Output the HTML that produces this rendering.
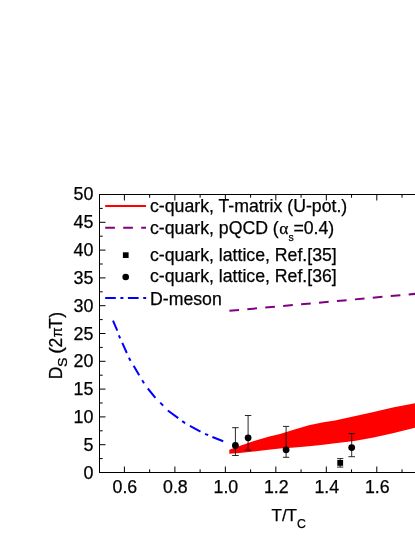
<!DOCTYPE html>
<html><head><meta charset="utf-8">
<style>
html,body{margin:0;padding:0;background:#fff;}
svg{display:block;will-change:transform;}
text{font-family:"Liberation Sans",sans-serif;fill:#000;stroke:#000;stroke-width:0.25px;}
</style></head><body>
<svg width="415" height="537" viewBox="0 0 415 537">
<rect width="415" height="537" fill="#fff"/>
<!-- red band -->
<path d="M229.3,449.7 L239.5,446.1 L253.9,441.0 L268.4,436.7 L280,433.9 L294.5,429.6 L308.9,425.2 L323.4,422.3 L335,420.4 L354.3,416.2 L373.6,412.0 L392.8,407.5 L416,403 L416,427.6 L392.8,433.2 L373.6,437.4 L354.3,440.9 L335,443.2 L323.4,444.8 L308.9,446.2 L294.5,447.6 L280,448.4 L268.4,449.7 L253.9,451.4 L239.5,452.9 L229.3,453.7 Z" fill="#ff0000"/>
<!-- pQCD -->
<line x1="229.4" y1="310.85" x2="429.5" y2="292.55" stroke="#800080" stroke-width="2" stroke-dasharray="9.7 8.3"/>
<!-- D-meson -->
<path d="M113.0,320.6L117.3,330.6 M122.3,342.9L126.8,353.0 M133.65,365.8L139.2,375.2 M147.8,388.5L155.4,397.9 M167.8,410.5L178.25,418.15 M189.9,425.8L200.5,431.6 M212.4,437.0L223.2,441.3 M118.89,335.30L120.11,338.30 M128.90,357.70L130.50,360.70 M142.13,380.20L144.07,383.20 M160.22,402.65L163.18,405.65 M182.15,421.12L185.15,423.08 M205.10,433.82L208.10,435.18" fill="none" stroke="#0000ff" stroke-width="2"/>
<!-- axes -->
<g stroke="#000" stroke-width="1" fill="none">
<path d="M99.5,194 V473 M99,194.5 H416 M99,472.5 H416"/>
<g id="yt"></g>
</g>
<g stroke="#000" stroke-width="1" fill="none">
<!-- y major -->
<path d="M99.5,472.5h6 M99.5,444.7h6 M99.5,416.9h6 M99.5,389.1h6 M99.5,361.3h6 M99.5,333.5h6 M99.5,305.7h6 M99.5,277.9h6 M99.5,250.1h6 M99.5,222.3h6"/>
<path d="M99.5,458.6h3.2 M99.5,430.8h3.2 M99.5,403.0h3.2 M99.5,375.2h3.2 M99.5,347.4h3.2 M99.5,319.6h3.2 M99.5,291.8h3.2 M99.5,264.0h3.2 M99.5,236.2h3.2 M99.5,208.4h3.2"/>
<!-- x major bottom -->
<path d="M124.40,472.5v-6 M174.88,472.5v-6 M225.36,472.5v-6 M275.84,472.5v-6 M326.32,472.5v-6 M376.80,472.5v-6"/>
<path d="M149.64,472.5v-3.2 M200.12,472.5v-3.2 M250.60,472.5v-3.2 M301.08,472.5v-3.2 M351.56,472.5v-3.2 M402.04,472.5v-3.2"/>
<path d="M124.40,194.5v6 M174.88,194.5v6 M225.36,194.5v6 M275.84,194.5v6 M326.32,194.5v6 M376.80,194.5v6"/>
<path d="M149.64,194.5v3.2 M200.12,194.5v3.2 M250.60,194.5v3.2 M301.08,194.5v3.2 M351.56,194.5v3.2 M402.04,194.5v3.2"/>
</g>
<!-- error bars -->
<g stroke="#111" stroke-width="0.9" fill="none">
<path d="M235.4,427.7V455.5 M232.1,427.7h6.6 M232.1,455.5h6.6"/>
<path d="M248.1,415.5V450.1 M244.9,415.5h6.4 M244.9,450.1h6.4"/>
<path d="M286.1,426.4V457.3 M283,426.4h6.2 M283,457.3h6.2"/>
<path d="M351.7,433.6V456.7 M348.4,433.6h6.6 M348.4,456.7h6.6"/>
<path d="M340.2,458.6V467.1 M337.1,458.6h6.2 M337.1,467.1h6.2"/>
</g>
<g fill="#000">
<circle cx="235.4" cy="445.4" r="3.4"/>
<circle cx="248.1" cy="437.8" r="3.4"/>
<circle cx="286.1" cy="449.8" r="3.4"/>
<circle cx="351.7" cy="447.6" r="3.4"/>
<rect x="337.3" y="460" width="5.8" height="5.8"/>
</g>
<!-- legend -->
<line x1="105.2" y1="206" x2="146" y2="206" stroke="#ff0000" stroke-width="2"/>
<line x1="105.2" y1="227.8" x2="146" y2="227.8" stroke="#800080" stroke-width="2" stroke-dasharray="9.7 8.3"/>
<rect x="122.9" y="252.3" width="5.7" height="5.7" fill="#000"/>
<circle cx="125.7" cy="277" r="3.3" fill="#000"/>
<path d="M105.2,298.1H115.8 M120.4,298.1H123.4 M127.9,298.1H138.6 M143.2,298.1H146.2" stroke="#0000ff" stroke-width="2" fill="none"/>
<g font-size="17.7">
<text x="150" y="212">c-quark, T-matrix (U-pot.)</text>
<text x="150" y="234">c-quark, pQCD (<tspan font-family="Liberation Serif" font-size="17.5" dx="0.5">α</tspan><tspan font-size="10.5" dy="7">s</tspan><tspan dy="-7" dx="-0.3">=0.4)</tspan></text>
<text x="150" y="261.3">c-quark, lattice, Ref.[35]</text>
<text x="150" y="282.3">c-quark, lattice, Ref.[36]</text>
<text x="150" y="304.6">D-meson</text>
</g>
<!-- y labels -->
<g font-size="17.9" text-anchor="end">
<text x="93.5" y="200">50</text>
<text x="93.5" y="228">45</text>
<text x="93.5" y="256">40</text>
<text x="93.5" y="284">35</text>
<text x="93.5" y="311.5">30</text>
<text x="93.5" y="339.5">25</text>
<text x="93.5" y="367">20</text>
<text x="93.5" y="395">15</text>
<text x="93.5" y="423">10</text>
<text x="93.5" y="450.5">5</text>
<text x="93.5" y="478.5">0</text>
</g>
<g font-size="17.8" text-anchor="middle" transform="translate(0.5,0)">
<text x="124.4" y="492.8">0.6</text>
<text x="174.9" y="492.8">0.8</text>
<text x="225.4" y="492.8">1.0</text>
<text x="275.8" y="492.8">1.2</text>
<text x="326.3" y="492.8">1.4</text>
<text x="376.8" y="492.8">1.6</text>
</g>
<text font-size="17" x="271.5" y="521.2">T/T<tspan font-size="12.3" dy="6.3">C</tspan></text>
<g font-size="17.5" transform="translate(61.7,379.2) rotate(-90)">
<text x="0" y="0">D</text>
<text transform="translate(12.3,5.5) scale(1.1,1)" font-size="13">S</text>
<text transform="translate(25.4,0) scale(1.15,1)">(</text>
<text x="31.6" y="0">2</text>
<text x="42" y="0" font-family="Liberation Serif" font-size="14.5">π</text>
<text x="50.4" y="0">T</text>
<text x="61.5" y="0">)</text>
</g>
</svg>
</body></html>
